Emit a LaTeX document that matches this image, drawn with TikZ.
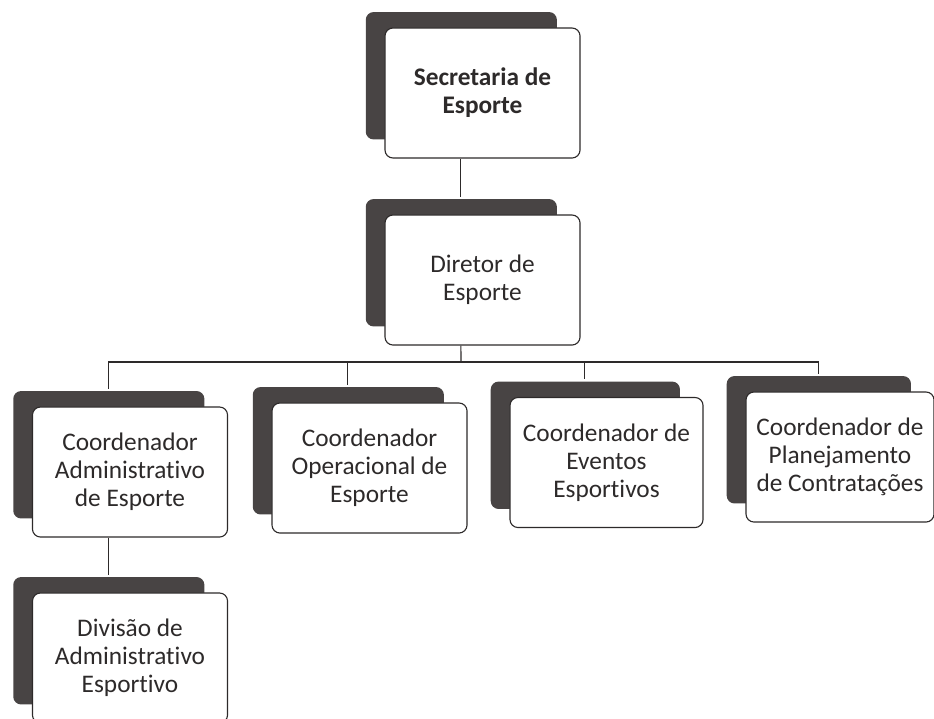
\documentclass[tikz,border=0pt]{standalone}
\usepackage{fontspec}
\setmainfont{Carlito}[Ligatures=NoCommon]
\usetikzlibrary{shadows}
\definecolor{backgray}{RGB}{72,68,68}
\definecolor{inkgray}{RGB}{45,42,42}
\tikzset{
  box/.style={draw=inkgray,line width=0.8pt,fill=white,rounded corners=0.2cm,
    minimum width=4.875cm,minimum height=3.25cm,align=center,text=inkgray,
    font=\fontsize{18}{20}\selectfont,
    general shadow={fill=backgray,shadow scale=0.98,shadow xshift=-0.54cm,shadow yshift=0.44cm}},
  head/.style={box,font=\fontsize{18}{20}\selectfont\bfseries},
  link/.style={draw=inkgray,line width=0.8pt}
}
\begin{document}
\begin{tikzpicture}[x=0.025cm,y=-0.025cm]
      \useasboundingbox (0,0) rectangle (934,718);
      \node [head] (sec) at (482.5,93) {Secretaria de\\Esporte};
      \node [box] (dir) at (482.5,280) {Diretor de\\Esporte};
      \node [box] (adm) at (130,472) {Coordenador\\Administrativo\\de Esporte};
      \node [box] (ope) at (369.5,468) {Coordenador\\Operacional de\\Esporte};
      \node [box,minimum width=4.825cm] (eve) at (606.5,462.5) {Coordenador de\\Eventos\\Esportivos};
      \node [box,minimum width=4.7cm] (pla) at (840,457) {Coordenador de\\Planejamento\\de Contratações};
      \node [box] (div) at (130,658) {Divisão de\\Administrativo\\Esportivo};

      \coordinate (bus) at (461,362);
      \draw [link] ([xshift=-0.54cm]sec.south) -- ([shift={(-0.54cm,0.44cm)}]dir.north);
      \draw [link] ([xshift=-0.54cm]dir.south) -- (bus);
      \foreach \to in {adm,ope,eve,pla}
        \draw [link] (bus) -| ([shift={(-0.54cm,0.44cm)}]\to.north);
      \draw [link] ([xshift=-0.54cm]adm.south) -- ([shift={(-0.54cm,0.44cm)}]div.north);
    \end{tikzpicture}
\end{document}
